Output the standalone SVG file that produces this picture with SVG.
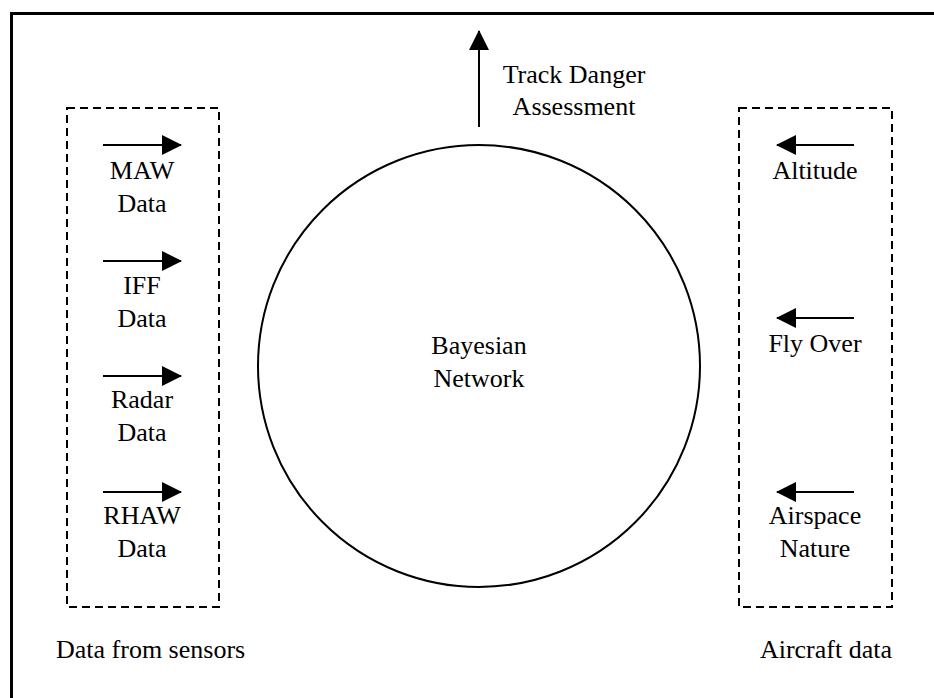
<svg xmlns="http://www.w3.org/2000/svg" width="934" height="698" viewBox="0 0 934 698">
<style>
text{font-family:"Liberation Serif","Times New Roman",serif;font-size:26px;fill:#000}
.c{text-anchor:middle}
.dash{fill:none;stroke:#000;stroke-width:2;stroke-dasharray:8 5}
.ln{stroke:#000;stroke-width:2;fill:none}
</style>
<defs>
<marker id="ah" viewBox="0 0 20 20" refX="19" refY="10" markerWidth="20" markerHeight="20" markerUnits="userSpaceOnUse" orient="auto">
<path d="M0,0 L20,10 L0,20 Z" fill="#000"/>
</marker>
</defs>
<rect width="934" height="698" fill="#fff"/>
<rect x="11.5" y="13.5" width="940" height="700" fill="none" stroke="#000" stroke-width="3"/>
<g id="sensors">
<rect class="dash" x="67" y="108" width="152" height="499"/>
<text x="56" y="658">Data from sensors</text>
</g>
<g id="aircraft">
<rect class="dash" x="739" y="108" width="153" height="499"/>
<text x="892" y="658" text-anchor="end">Aircraft data</text>
</g>
<g id="bn">
<circle cx="479" cy="366" r="221" class="ln"/>
<text class="c" x="479" y="354">Bayesian</text>
<text class="c" x="479" y="387">Network</text>
</g>
<g id="labels">
<text class="c" x="142" y="179">MAW</text>
<text class="c" x="142" y="212">Data</text>
<text class="c" x="142" y="294">IFF</text>
<text class="c" x="142" y="327">Data</text>
<text class="c" x="142" y="408">Radar</text>
<text class="c" x="142" y="441">Data</text>
<text class="c" x="142" y="524">RHAW</text>
<text class="c" x="142" y="557">Data</text>
<text class="c" x="815" y="179">Altitude</text>
<text class="c" x="815" y="352">Fly Over</text>
<text class="c" x="815" y="524">Airspace</text>
<text class="c" x="815" y="557">Nature</text>
<text class="c" x="574" y="83">Track Danger</text>
<text class="c" x="574" y="115">Assessment</text>
</g>
<g id="connectors">
<line class="ln" x1="103" y1="145" x2="181" y2="145" marker-end="url(#ah)"/>
<line class="ln" x1="103" y1="261" x2="181" y2="261" marker-end="url(#ah)"/>
<line class="ln" x1="103" y1="376" x2="181" y2="376" marker-end="url(#ah)"/>
<line class="ln" x1="103" y1="492" x2="181" y2="492" marker-end="url(#ah)"/>
<line class="ln" x1="854" y1="145" x2="777" y2="145" marker-end="url(#ah)"/>
<line class="ln" x1="854" y1="318" x2="777" y2="318" marker-end="url(#ah)"/>
<line class="ln" x1="854" y1="492" x2="777" y2="492" marker-end="url(#ah)"/>
<line class="ln" x1="479" y1="127" x2="479" y2="31" marker-end="url(#ah)"/>
</g>
</svg>
